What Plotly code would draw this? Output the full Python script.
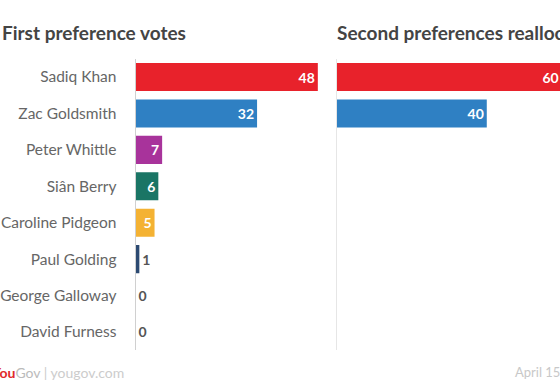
import plotly.graph_objects as go

candidates = ["Sadiq Khan", "Zac Goldsmith", "Peter Whittle", "Siân Berry",
              "Caroline Pidgeon", "Paul Golding", "George Galloway", "David Furness"]
first_pref = [48, 32, 7, 6, 5, 1, 0, 0]
second_candidates = ["Sadiq Khan", "Zac Goldsmith"]
second_pref = [60, 40]
title_left = "First preference votes"
title_right = "Second preferences reallocated"
date_label = "April 15"

colors = ["#e8222b", "#2f80c3", "#a8339b", "#1a7565", "#f4b233",
          "#2c4a72", "#888888", "#888888"]
second_colors = ["#e8222b", "#2f80c3"]

# The source graphic is wider than the 560px window; it is cropped on the right.
W, H = 600, 390
PXU = 3.81   # px per unit, left panel
PXU2 = 3.76  # px per unit, right panel
x0L, x0R = 134, 336
endL = 326
endR = 590
yTop, yBot = 58.8, 350.2

FONT = "Lato"

def pos(vals, thr=3):
    return ["inside" if v >= thr else "outside" for v in vals]

fig = go.Figure()
fig.add_trace(go.Bar(
    y=candidates, x=first_pref, orientation="h",
    marker=dict(color=colors, line=dict(width=0)),
    text=[str(v) for v in first_pref], textposition=pos(first_pref),
    insidetextanchor="end",
    insidetextfont=dict(family=FONT, size=14, color="white", weight="bold"),
    outsidetextfont=dict(family=FONT, size=14, color="#555555", weight="bold"),
    cliponaxis=False, xaxis="x", yaxis="y", hoverinfo="skip",
))
fig.add_trace(go.Bar(
    y=second_candidates, x=second_pref, orientation="h",
    marker=dict(color=second_colors, line=dict(width=0)),
    text=[str(v) for v in second_pref], textposition=pos(second_pref),
    insidetextanchor="end",
    insidetextfont=dict(family=FONT, size=14, color="white", weight="bold"),
    cliponaxis=False, xaxis="x2", yaxis="y2", hoverinfo="skip",
))

n = len(candidates)
ydom = [1 - yBot / H, 1 - yTop / H]
fig.update_layout(
    width=W, height=H, margin=dict(l=0, r=0, t=0, b=0),
    paper_bgcolor="white", plot_bgcolor="white",
    showlegend=False, bargap=0.23,
    font=dict(family=FONT, color="#666666"),
    xaxis=dict(domain=[x0L / W, endL / W], range=[0, (endL - x0L) / PXU],
               visible=False, fixedrange=True),
    xaxis2=dict(domain=[x0R / W, endR / W], range=[0, (endR - x0R) / PXU2],
                visible=False, fixedrange=True),
    yaxis=dict(domain=ydom, categoryorder="array", categoryarray=candidates,
               range=[n - 0.5, -0.5], showline=True, linecolor="#d0d0d0", linewidth=1,
               showgrid=False, ticks="", ticklabelstandoff=15, fixedrange=True,
               tickfont=dict(family=FONT, size=15.5, color="#666666")),
    yaxis2=dict(domain=ydom, anchor="x2", categoryorder="array", categoryarray=candidates,
                range=[n - 0.5, -0.5], showline=True, linecolor="#e6e6e6", linewidth=1,
                showgrid=False, ticks="", showticklabels=False, fixedrange=True),
)

fig.add_annotation(text=f"<b>{title_left}</b>", xref="paper", yref="paper",
                   x=-2 / W, y=1 - 32 / H, xanchor="left", yanchor="middle", showarrow=False,
                   font=dict(family=FONT, size=19, color="#444444"))
fig.add_annotation(text=f"<b>{title_right}</b>", xref="paper", yref="paper",
                   x=(x0R - 2) / W, y=1 - 32 / H, xanchor="left", yanchor="middle",
                   showarrow=False, font=dict(family=FONT, size=19, color="#444444"))
fig.add_annotation(
    text="<span style='color:#e02a2a'><b>You</b></span><span style='color:#bbbbbb'>Gov</span>"
         " <span style='color:#cccccc'>| yougov.com</span>",
    xref="paper", yref="paper", x=-13 / W, y=1 - 372 / H, xanchor="left", yanchor="middle",
    showarrow=False, font=dict(family=FONT, size=14))
fig.add_annotation(text=date_label, xref="paper", yref="paper",
                   x=513 / W, y=1 - 372 / H, xanchor="left", yanchor="middle",
                   showarrow=False, font=dict(family=FONT, size=13, color="#c8c8c8"))

fig.write_html(
    "out.html",
    config={"displayModeBar": False, "staticPlot": True},
    post_script="document.body.style.margin='0';document.body.style.overflow='hidden';"
                "document.documentElement.style.overflow='hidden';",
)
